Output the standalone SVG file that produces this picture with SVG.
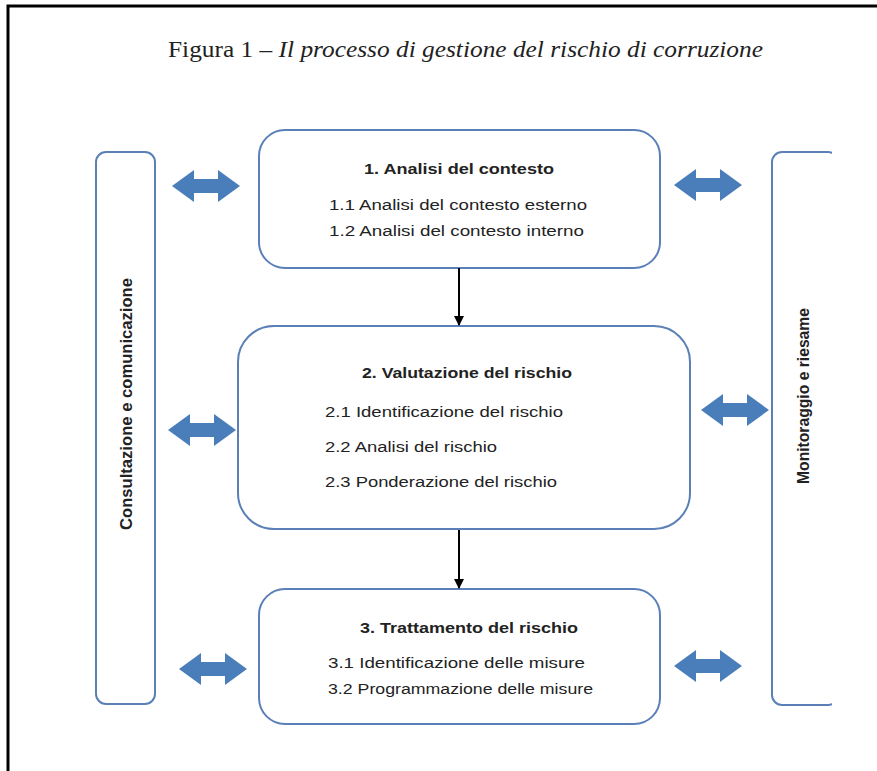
<svg xmlns="http://www.w3.org/2000/svg" width="877" height="771" viewBox="0 0 877 771">
<style>
.frame{stroke:#000;stroke-width:3;fill:none}
.box{fill:#fff;stroke:#5b80b8;stroke-width:2}
.t{font-family:"Liberation Sans",Arial,sans-serif;font-size:15.5px;fill:#222}
.b{font-weight:bold;text-anchor:middle}
.side{font-family:"Liberation Sans",Arial,sans-serif;font-size:16px;font-weight:bold;fill:#222;text-anchor:middle}
.title{font-family:"Liberation Serif","Times New Roman",serif;font-size:24px;fill:#222}
.dbl{fill:#4a7ebb}
.conn{stroke:#000;stroke-width:2;fill:none}
</style>
<defs>
<path id="dbl" d="M0 0 L22 -16 L22 -7 L46 -7 L46 -16 L68 0 L46 16 L46 7 L22 7 L22 16 Z"/>
<marker id="ah" viewBox="0 0 10 10" refX="9" refY="5" markerWidth="5" markerHeight="5" orient="auto">
<path d="M0 0 L10 5 L0 10 Z" fill="#000"/>
</marker>
<clipPath id="clipR"><rect x="760" y="140" width="72" height="580"/></clipPath>
</defs>
<rect width="877" height="771" fill="#fff"/>
<path class="frame" d="M8 771 L8 6 L877 6"/>
<text class="title" x="168" y="57" textLength="595" lengthAdjust="spacingAndGlyphs">Figura 1 – <tspan font-style="italic">Il processo di gestione del rischio di corruzione</tspan></text>

<g id="consultazione">
<rect class="box" x="96" y="152" width="59" height="552" rx="10"/>
<text class="side" transform="translate(132 404) rotate(-90)" textLength="252" lengthAdjust="spacingAndGlyphs">Consultazione e comunicazione</text>
</g>
<g id="monitoraggio">
<rect class="box" x="772" y="152" width="66" height="553" rx="10" clip-path="url(#clipR)"/>
<text class="side" transform="translate(809 396) rotate(-90)" textLength="176" lengthAdjust="spacingAndGlyphs">Monitoraggio e riesame</text>
</g>

<g id="box1">
<rect class="box" x="259" y="130" width="401" height="138" rx="26"/>
<text class="t b" x="459" y="174" textLength="190" lengthAdjust="spacingAndGlyphs">1. Analisi del contesto</text>
<text class="t" x="329" y="210" textLength="258" lengthAdjust="spacingAndGlyphs">1.1 Analisi del contesto esterno</text>
<text class="t" x="329" y="236" textLength="255" lengthAdjust="spacingAndGlyphs">1.2 Analisi del contesto interno</text>
</g>
<g id="box2">
<rect class="box" x="238" y="326" width="452" height="203" rx="36"/>
<text class="t b" x="467" y="378" textLength="210" lengthAdjust="spacingAndGlyphs">2. Valutazione del rischio</text>
<text class="t" x="325" y="417" textLength="238" lengthAdjust="spacingAndGlyphs">2.1 Identificazione del rischio</text>
<text class="t" x="325" y="452" textLength="172" lengthAdjust="spacingAndGlyphs">2.2 Analisi del rischio</text>
<text class="t" x="325" y="487" textLength="232" lengthAdjust="spacingAndGlyphs">2.3 Ponderazione del rischio</text>
</g>
<g id="box3">
<rect class="box" x="259" y="589" width="401" height="135" rx="26"/>
<text class="t b" x="469" y="633" textLength="218" lengthAdjust="spacingAndGlyphs">3. Trattamento del rischio</text>
<text class="t" x="328" y="668" textLength="257" lengthAdjust="spacingAndGlyphs">3.1 Identificazione delle misure</text>
<text class="t" x="328" y="694" textLength="265" lengthAdjust="spacingAndGlyphs">3.2 Programmazione delle misure</text>
</g>

<g id="connectors">
<line class="conn" x1="459" y1="268" x2="459" y2="325" marker-end="url(#ah)"/>
<line class="conn" x1="459" y1="530" x2="459" y2="588" marker-end="url(#ah)"/>
<use href="#dbl" class="dbl" x="172" y="186"/>
<use href="#dbl" class="dbl" x="674" y="185"/>
<use href="#dbl" class="dbl" x="168" y="430"/>
<use href="#dbl" class="dbl" x="701" y="410"/>
<use href="#dbl" class="dbl" x="179" y="669"/>
<use href="#dbl" class="dbl" x="674" y="666"/>
</g>
</svg>
